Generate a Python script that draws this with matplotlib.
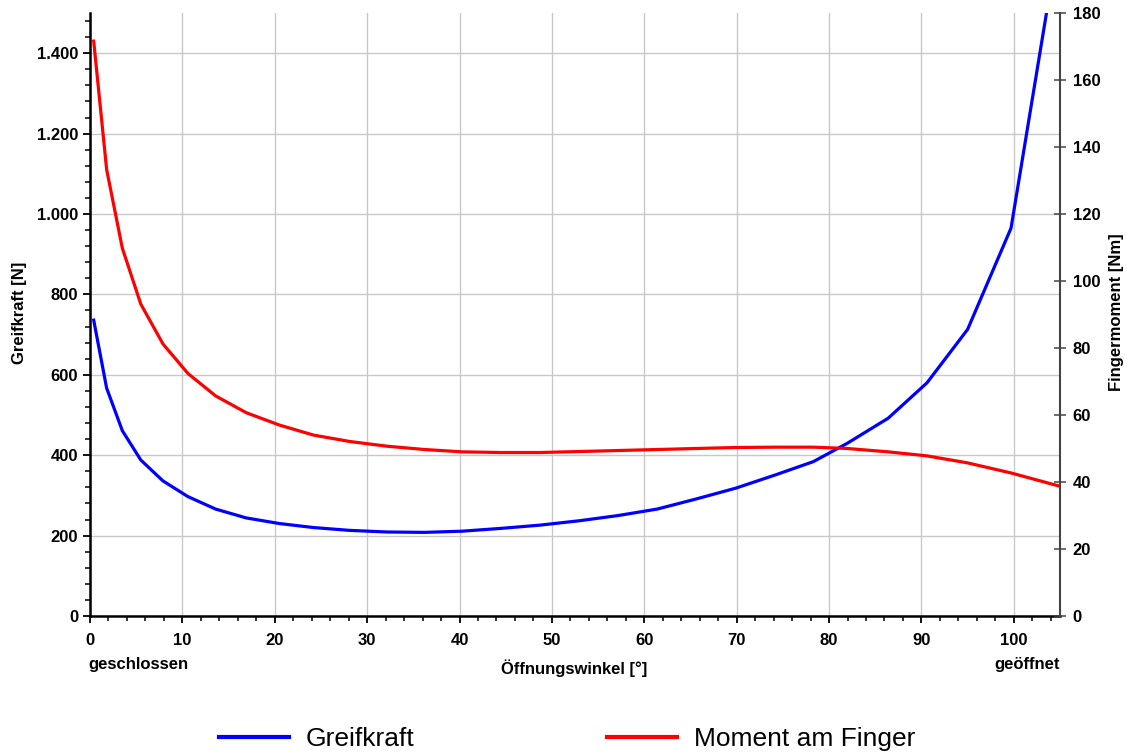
import numpy as np
import matplotlib
matplotlib.use("Agg")
import matplotlib.pyplot as plt
from matplotlib.ticker import MultipleLocator, FuncFormatter
from matplotlib.lines import Line2D

plt.rcParams['font.family'] = ['Liberation Sans', 'DejaVu Sans']

# opening angle [deg]
winkel = [0.4, 1.8, 3.5, 5.5, 7.9, 10.6, 13.6, 16.9, 20.5, 24.2, 28.1, 32.1, 36.2,
          40.3, 44.5, 48.7, 53.0, 57.2, 61.4, 65.6, 69.9, 74.2, 78.3, 82.0, 86.4,
          90.6, 95.0, 99.7, 104.9]
# grip force [N]
greifkraft = [736, 567, 461, 388, 336, 297, 266, 244, 230, 220, 213, 209, 208,
              211, 218, 226, 237, 250, 266, 291, 318, 351, 384, 430, 492,
              580, 713, 965, 1690]
# moment at finger [Nm]
moment = [171.6, 133.3, 109.8, 93.1, 81.2, 72.4, 65.7, 60.7, 57.0, 54.0, 52.1, 50.7, 49.7,
          49.0, 48.8, 48.8, 49.1, 49.4, 49.7, 50.0, 50.3, 50.4, 50.4, 50.0, 49.0,
          47.8, 45.7, 42.7, 38.8]

left_ticks = [0, 200, 400, 600, 800, 1000, 1200, 1400]
right_ticks = [0, 20, 40, 60, 80, 100, 120, 140, 160, 180]
x_ticks = [0, 10, 20, 30, 40, 50, 60, 70, 80, 90, 100]

fs = 12

fig = plt.figure(figsize=(11.27, 7.55), dpi=100)
ax = fig.add_axes([90/1127, 1-616/755, 970/1127, 603/755])
ax2 = ax.twinx()

ax.plot(winkel, greifkraft, color='#0000ff', lw=2.3, solid_joinstyle='round')
ax2.plot(winkel, moment, color='#ff0000', lw=2.3, solid_joinstyle='round')

ax.set_xlim(0, 105)
ax.set_ylim(0, 1500)
ax2.set_ylim(0, 180)

ax.set_xticks(x_ticks)
ax.xaxis.set_minor_locator(MultipleLocator(2))
ax.set_yticks(left_ticks)
ax.yaxis.set_minor_locator(MultipleLocator(40))
ax.yaxis.set_major_formatter(FuncFormatter(lambda v, p: f"{int(v):,}".replace(",", ".")))
ax2.set_yticks(right_ticks)

ax.grid(True, which='major', color='#c8c8c8', lw=1)
ax.set_axisbelow(True)

for a in (ax, ax2):
    a.spines['top'].set_visible(False)
ax.spines['left'].set_linewidth(1.8)
ax.spines['bottom'].set_linewidth(1.8)
ax.spines['right'].set_visible(False)
ax2.spines['left'].set_visible(False)
ax2.spines['bottom'].set_visible(False)
ax2.spines['right'].set_color('#444444')
ax2.spines['right'].set_linewidth(1.5)

ax.tick_params(axis='both', which='major', length=5, width=1.3, labelsize=fs)
ax.tick_params(axis='both', which='minor', length=3.5, width=1.1)
ax2.tick_params(axis='y', which='major', direction='inout', length=8, width=1.1,
                labelsize=fs, color='#444444', pad=5)
for lab in ax.get_xticklabels() + ax.get_yticklabels() + ax2.get_yticklabels():
    lab.set_fontweight('bold')
ax.tick_params(axis='x', pad=7)

fig.text(20/1127, 1-313/755, 'Greifkraft [N]', ha='center', va='center',
         rotation=90, fontsize=fs, fontweight='bold')
fig.text(1116/1127, 1-312/755, 'Fingermoment [Nm]', ha='center', va='center',
         rotation=90, fontsize=fs, fontweight='bold')

fig.text(574/1127, 1-668/755, 'Öffnungswinkel [°]', ha='center', va='center',
         fontsize=fs, fontweight='bold')
fig.text(88/1127, 1-665/755, 'geschlossen', ha='left', va='center',
         fontsize=fs, fontweight='bold')
fig.text(1060/1127, 1-665/755, 'geöffnet', ha='right', va='center',
         fontsize=fs, fontweight='bold')

handles = [Line2D([], [], color='#0000ff', lw=3),
           Line2D([], [], color='#ff0000', lw=3)]
fig.legend(handles, ['Greifkraft', 'Moment am Finger'], loc='center',
           bbox_to_anchor=(567/1127, 1-739/755), ncol=2, frameon=False,
           fontsize=19, handlelength=2.65, handletextpad=0.64, columnspacing=7.3)

fig.savefig('out.png', dpi=100)
